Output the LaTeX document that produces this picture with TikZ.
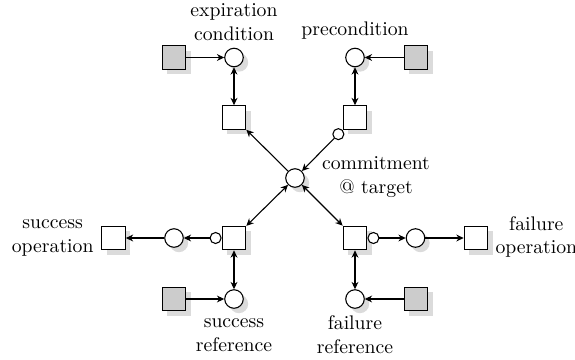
\documentclass[tikz,border=0pt]{standalone}
\usetikzlibrary{arrows.meta,shadows}
\begin{document}
\begin{tikzpicture}[x=0.5076pt,y=-0.5076pt,
 line width=0.55pt,
 shad/.style={drop shadow={shadow xshift=2.5pt,shadow yshift=-2.5pt,fill=black!14,opacity=1}},
 place/.style={circle,draw,fill=white,minimum size=9.4pt,inner sep=0pt,shad},
 trans/.style={rectangle,draw,fill=white,minimum size=12pt,inner sep=0pt,shad},
 env/.style={trans,fill=black!20},
 tiny/.style={circle,draw,fill=white,minimum size=5.6pt,inner sep=0pt},
 arr/.style={-{Stealth[length=3.7pt,width=3.5pt]}},
 darr/.style={{Stealth[length=3.7pt,width=3.5pt]}-{Stealth[length=3.7pt,width=3.5pt]}},
 lbl/.style={align=center,inner sep=0pt}
]
\useasboundingbox (0,0) rectangle (575,359);
% places and transitions
\node[place] (c) at (295,178) {};
\node[place] (pexp) at (234,57.5) {};
\node[env] (gexp) at (174,57.5) {};
\node[trans] (texp) at (234,117.5) {};
\node[place] (ppre) at (355,57.5) {};
\node[env] (gpre) at (416,57.5) {};
\node[trans] (tpre) at (355,117.5) {};
\node[tiny,anchor=45] (spre) at (tpre.south west) {};
\node[trans] (tsuc) at (234,238) {};
\node[tiny,anchor=east] (ssuc) at (tsuc.west) {};
\node[place] (psuc) at (174,238) {};
\node[trans] (osuc) at (113.5,238) {};
\node[place] (rsuc) at (234,299) {};
\node[env] (grsuc) at (174,299) {};
\node[trans] (tfai) at (355,238) {};
\node[tiny,anchor=west] (sfai) at (tfai.east) {};
\node[place] (pfai) at (415.5,238) {};
\node[trans] (ofai) at (476,238) {};
\node[place] (rfai) at (355,299) {};
\node[env] (grfai) at (416,299) {};
% labels
\node[lbl] (lexp) at (234,22) {expiration\\condition};
\node[lbl,anchor=base] (lpre) at (355,35) {precondition};
\node[lbl] (lcom) at (376,177) {commitment\\@ target};
\node[lbl,anchor=east] (lsop) at (94,238) {success\\operation};
\node[lbl,anchor=west] (lfop) at (495,237) {failure\\operation};
\node[lbl,anchor=north] (lsref) at (234,318) {success\\reference};
\node[lbl,anchor=north] (lfref) at (355,315) {failure\\reference};
% arcs
\draw[arr] (gexp) -- (pexp);
\draw[darr] (pexp) -- (texp);
\draw[arr] (c) -- (texp);
\draw[arr] (gpre) -- (ppre);
\draw[darr] (ppre) -- (tpre);
\draw[arr] (spre) -- (c);
\draw[darr] (c) -- (tsuc);
\draw[arr] (ssuc) -- (psuc);
\draw[arr] (psuc) -- (osuc);
\draw[darr] (tsuc) -- (rsuc);
\draw[arr] (grsuc) -- (rsuc);
\draw[darr] (c) -- (tfai);
\draw[arr] (sfai) -- (pfai);
\draw[arr] (pfai) -- (ofai);
\draw[darr] (tfai) -- (rfai);
\draw[arr] (grfai) -- (rfai);
\end{tikzpicture}
\end{document}
